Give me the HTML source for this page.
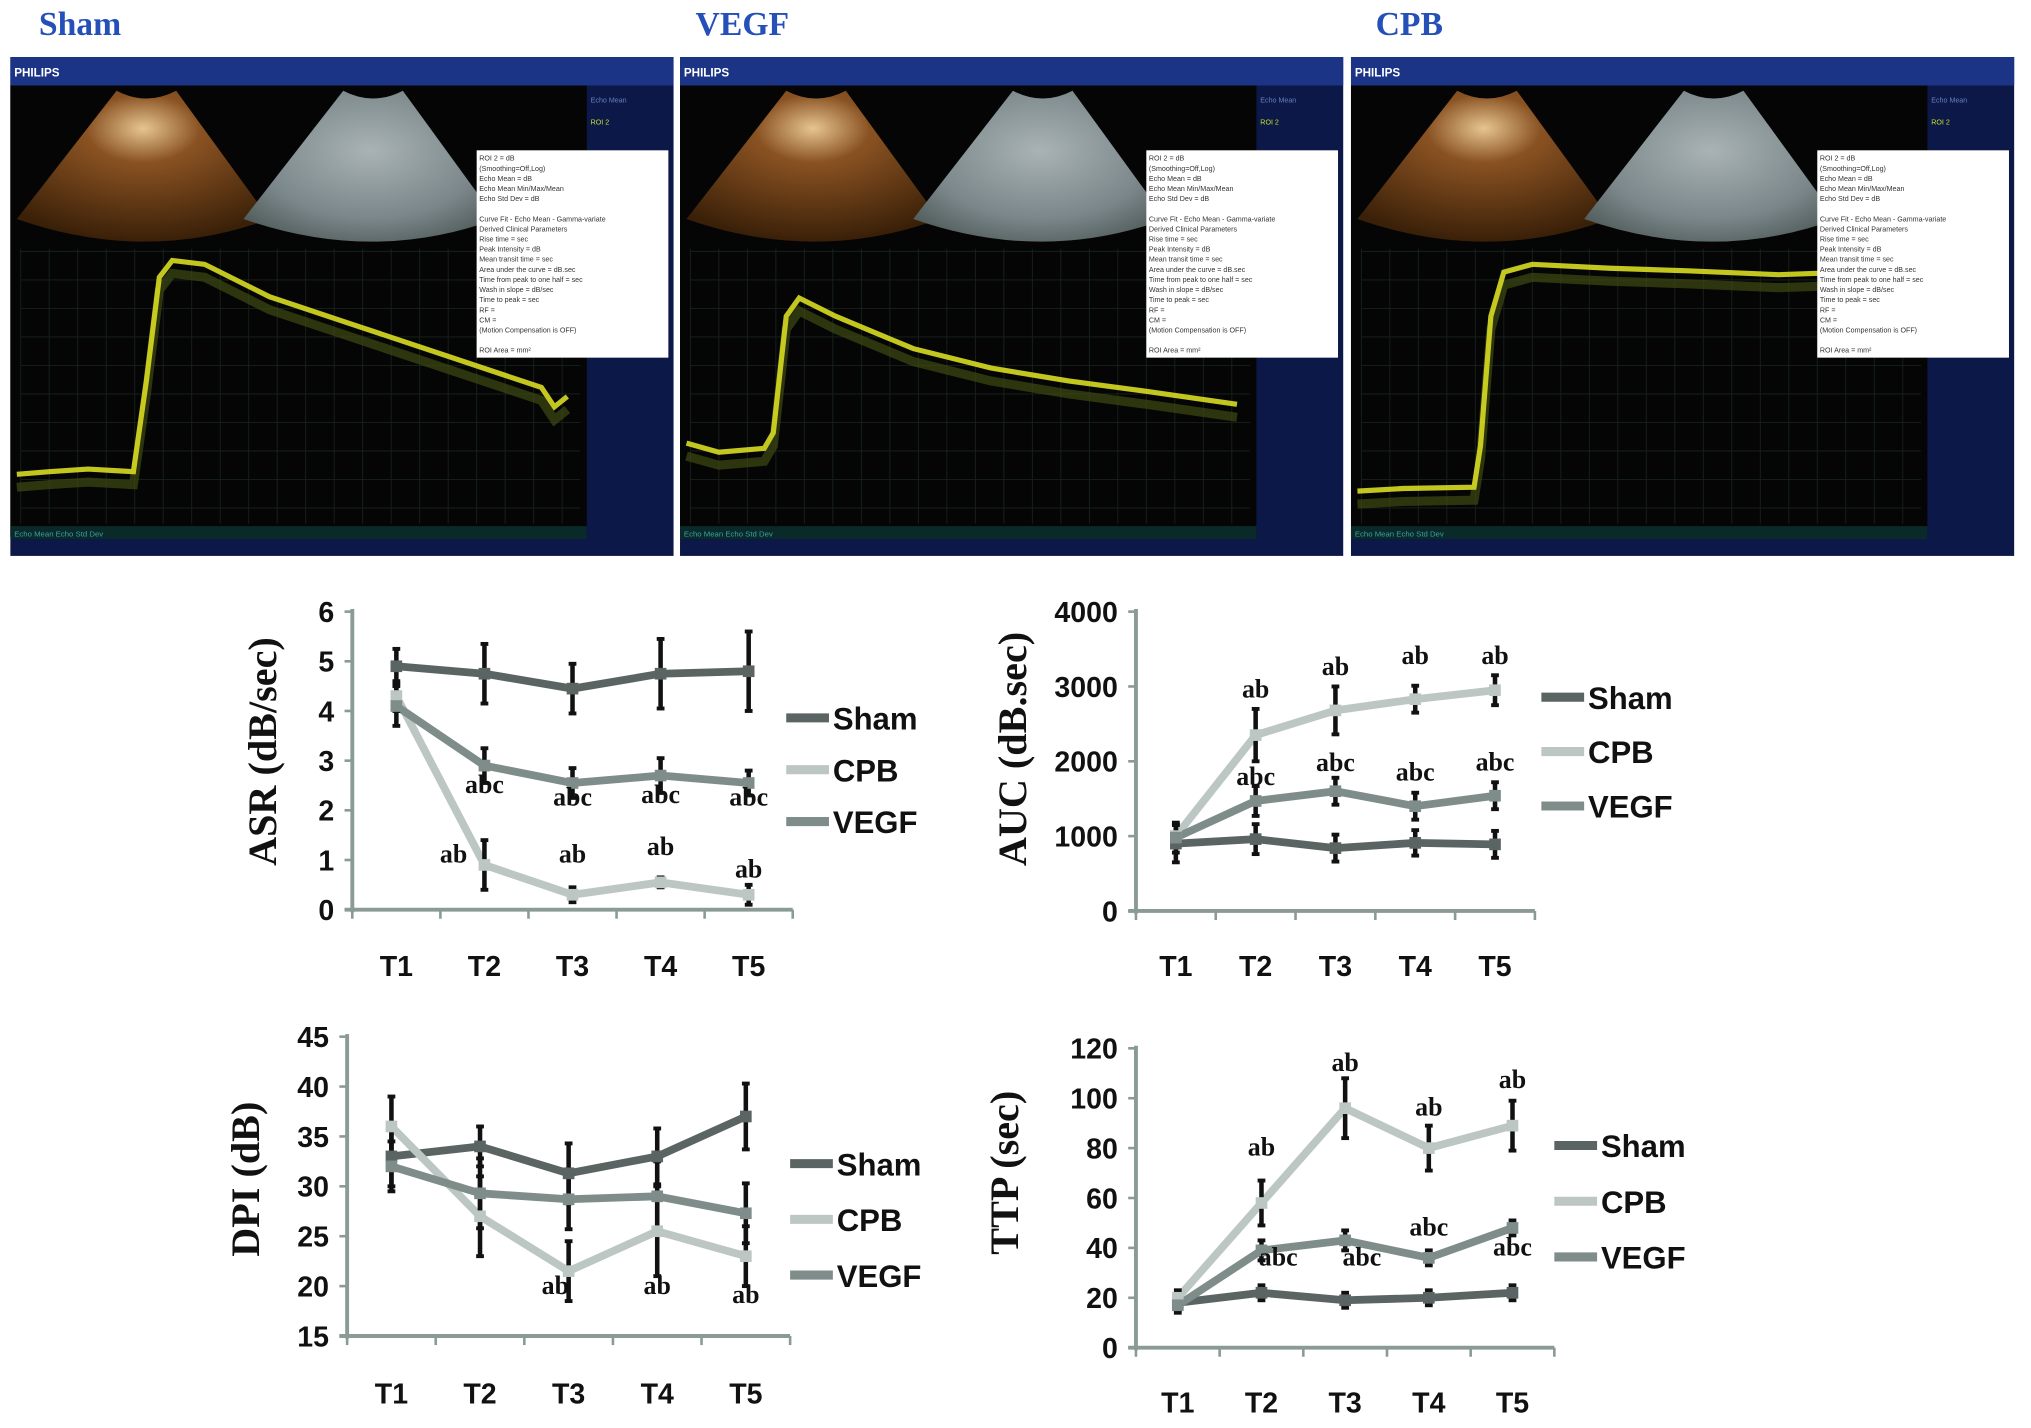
<!DOCTYPE html>
<html><head><meta charset="utf-8"><style>
html,body{margin:0;padding:0;background:#fff;}
svg{display:block;}
.tick{font-family:"Liberation Sans",sans-serif;font-weight:bold;font-size:22px;fill:#111;}
.ytitle{font-family:"Liberation Serif",serif;font-weight:bold;font-size:31px;fill:#111;}
.leg{font-family:"Liberation Sans",sans-serif;font-weight:bold;font-size:24px;fill:#111;}
.ann{font-family:"Liberation Serif",serif;font-weight:bold;font-size:20px;fill:#111;}
.ptitle{font-family:"Liberation Serif",serif;font-weight:bold;font-size:26px;fill:#2450b8;}
.info{font-family:"Liberation Sans",sans-serif;font-size:5.5px;fill:#333;}
</style></head><body>
<svg id="fig" width="2031" height="1428" viewBox="0 0 1568 1102" preserveAspectRatio="none" xmlns="http://www.w3.org/2000/svg">
<defs>
<radialGradient id="orangeG" cx="0.5" cy="0.25" r="0.75"><stop offset="0" stop-color="#e6c590"/><stop offset="0.3" stop-color="#8a5222"/><stop offset="1" stop-color="#3a2008"/></radialGradient>
<radialGradient id="grayG" cx="0.5" cy="0.4" r="0.75"><stop offset="0" stop-color="#a9b3b6"/><stop offset="0.6" stop-color="#7a8689"/><stop offset="1" stop-color="#444e4d"/></radialGradient>
</defs>
<g id="panels"></g>
<g id="charts"></g>
</svg>
<script>
const NS='http://www.w3.org/2000/svg';
function mk(tag,attrs,parent,text){const e=document.createElementNS(NS,tag);for(const k in attrs)e.setAttribute(k,attrs[k]);if(text!==undefined)e.textContent=text;parent.appendChild(e);return e;}

/* ---------- ultrasound panels ---------- */
const panelNames=['Sham','VEGF','CPB'];
const panelX=[8,525,1043];
const panelTitleX=[30,537,1062];
const shamCurve=[[5,322],[30,320],[60,318],[95,320],[105,250],[115,170],[125,157],[150,160],[200,185],[260,205],[320,225],[380,245],[410,255],[420,270],[430,262]];
const vegfCurve=[[5,298],[30,305],[65,302],[72,290],[82,200],[92,186],[120,200],[180,225],[240,240],[300,250],[360,258],[430,268]];
const cpbCurve=[[5,335],[40,333],[95,332],[100,300],[108,200],[118,166],[140,160],[200,163],[260,165],[330,168],[445,164]];
const curves=[shamCurve,vegfCurve,cpbCurve];
const pg=document.getElementById('panels');
panelNames.forEach((nm,i)=>{
  const t=mk('text',{x:panelTitleX[i],y:27,class:'ptitle'},pg,nm);
  
  
  const g=mk('g',{transform:`translate(${panelX[i]},44)`},pg);
  
  
  mk('rect',{x:0,y:0,width:512,height:385,fill:'#0c1848'},g);
  mk('rect',{x:0,y:0,width:512,height:22,fill:'#1b3486'},g);
  mk('text',{x:3,y:15,fill:'#fff','font-family':'Liberation Sans,sans-serif','font-weight':'bold','font-size':'9'},g,'PHILIPS');
  mk('rect',{x:0,y:22,width:445,height:348,fill:'#050505'},g);
  mk('path',{d:'M82,26 Q105,38 128,26 L200,125 Q105,160 5,125 Z',fill:'url(#orangeG)'},g);
  mk('path',{d:'M82,26 Q105,38 128,26 L200,125 Q105,160 5,125 Z',fill:'url(#grayG)',transform:'translate(175,0)'},g);
  for(let k=0;k<20;k++)mk('line',{x1:8+k*22,y1:148,x2:8+k*22,y2:360,stroke:'#17221c','stroke-width':0.7},g);
  for(let k=0;k<10;k++)mk('line',{x1:8,y1:150+k*22,x2:440,y2:150+k*22,stroke:'#17221c','stroke-width':0.7},g);
  const c=curves[i];
  mk('polyline',{points:c.map(p=>p[0]+','+(p[1]+10)).join(' '),fill:'none',stroke:'#3e4a14','stroke-width':7,opacity:0.7},g);
  mk('polyline',{points:c.map(p=>p.join(',')).join(' '),fill:'none',stroke:'#d8dc22','stroke-width':4,opacity:0.9},g);
  mk('rect',{x:360,y:72,width:148,height:160,fill:'#fff'},g);
  const lines=['ROI 2 = dB','(Smoothing=Off,Log)','Echo Mean = dB','Echo Mean Min/Max/Mean','Echo Std Dev = dB','','Curve Fit - Echo Mean - Gamma-variate','Derived Clinical Parameters','Rise time = sec','Peak Intensity = dB','Mean transit time = sec','Area under the curve = dB.sec','Time from peak to one half = sec','Wash in slope = dB/sec','Time to peak = sec','RF =','CM =','(Motion Compensation is OFF)','','ROI Area = mm²'];
  lines.forEach((l,j)=>{if(l)mk('text',{x:362,y:80+j*7.8,class:'info'},g,l);});
  mk('text',{x:448,y:35,fill:'#6a7fc0','font-size':'5.5','font-family':'Liberation Sans,sans-serif'},g,'Echo Mean');
  mk('text',{x:448,y:52,fill:'#c8e02a','font-size':'5.5','font-family':'Liberation Sans,sans-serif'},g,'ROI 2');
  mk('rect',{x:0,y:362,width:445,height:10,fill:'#0a2a2a'},g);
  mk('text',{x:3,y:370,fill:'#3aa0a0','font-size':'6','font-family':'Liberation Sans,sans-serif'},g,'Echo Mean  Echo Std Dev');
});

/* ---------- charts ---------- */
const categories=['T1','T2','T3','T4','T5'];
const seriesNames=['Sham','CPB','VEGF'];
const seriesColors=['#5a6563','#bcc7c3','#7f8d8a'];

const asrTicks=[0,1,2,3,4,5,6];
const asrSham=[4.9,4.75,4.45,4.75,4.8];
const asrCPB=[4.3,0.9,0.3,0.55,0.3];
const asrVEGF=[4.1,2.9,2.55,2.7,2.55];
const asrShamErr=[0.35,0.6,0.5,0.7,0.8];
const asrCPBErr=[0.3,0.5,0.15,0.1,0.2];
const asrVEGFErr=[0.4,0.35,0.3,0.35,0.25];
const asrAnnText=['ab','ab','ab','ab','abc','abc','abc','abc'];
const asrAnnCat=[0.65,2,3,4,1,2,3,4];
const asrAnnVal=[0.95,0.95,1.1,0.65,2.35,2.1,2.15,2.1];

const aucTicks=[0,1000,2000,3000,4000];
const aucSham=[900,960,840,910,890];
const aucCPB=[1000,2350,2680,2830,2950];
const aucVEGF=[980,1470,1600,1400,1540];
const aucShamErr=[250,200,180,170,180];
const aucCPBErr=[150,350,320,180,200];
const aucVEGFErr=[200,200,180,180,180];
const aucAnnText=['ab','ab','ab','ab','abc','abc','abc','abc'];
const aucAnnCat=[1,2,3,4,1,2,3,4];
const aucAnnVal=[2850,3150,3300,3300,1680,1870,1740,1880];

const dpiTicks=[15,20,25,30,35,40,45];
const dpiSham=[33,34,31.3,33,37];
const dpiCPB=[36,27,21.5,25.5,23];
const dpiVEGF=[32,29.3,28.7,29,27.3];
const dpiShamErr=[3,2,3,2.8,3.3];
const dpiCPBErr=[3,4,3,4.5,3];
const dpiVEGFErr=[2.5,3.5,3,3.5,3];
const dpiAnnText=['ab','ab','ab'];
const dpiAnnCat=[1.85,3,4];
const dpiAnnVal=[19.2,19.2,18.3];

const ttpTicks=[0,20,40,60,80,100,120];
const ttpSham=[18,22,19,20,22];
const ttpCPB=[20,58,96,80,89];
const ttpVEGF=[17,39,43,36,48];
const ttpShamErr=[3,3,3,3,3];
const ttpCPBErr=[3,9,12,9,10];
const ttpVEGFErr=[3,4,4,3,3];
const ttpAnnText=['ab','ab','ab','ab','abc','abc','abc','abc'];
const ttpAnnCat=[1,2,3,4,1.2,2.2,3,4];
const ttpAnnVal=[77,111,93,104,33,33,45,37];

const cg=document.getElementById('charts');
function drawChart(o){
  const g=mk('g',{},cg);
  
  
  const min=o.ticks[0],max=o.ticks[o.ticks.length-1];
  const yS=v=>o.yb-(v-min)/(max-min)*(o.yb-o.yt);
  const band=(o.xe-o.x0)/categories.length;
  const xS=i=>o.x0+(i+0.5)*band;
  const ax='#8a9a95';
  const yAxis=mk('line',{x1:o.x0,y1:o.yt-2,x2:o.x0,y2:o.yb+2,stroke:ax,'stroke-width':3},g);
  
  
  const xAxis=mk('line',{x1:o.x0-6,y1:o.yb,x2:o.xe,y2:o.yb,stroke:ax,'stroke-width':3},g);
  
  
  o.ticks.forEach(t=>{
    mk('line',{x1:o.x0-6,y1:yS(t),x2:o.x0,y2:yS(t),stroke:ax,'stroke-width':2},g);
    const tl=mk('text',{x:o.x0-14,y:yS(t)+8,class:'tick','text-anchor':'end'},g,String(t));
    
    
  });
  for(let i=0;i<=categories.length;i++)mk('line',{x1:o.x0+i*band,y1:o.yb,x2:o.x0+i*band,y2:o.yb+7,stroke:ax,'stroke-width':2},g);
  categories.forEach((c,i)=>{
    const tl=mk('text',{x:xS(i),y:o.xl,class:'tick','text-anchor':'middle'},g,c);
    
    
  });
  const yt=mk('text',{x:0,y:0,class:'ytitle','text-anchor':'middle',transform:`translate(${o.tx},${o.ty}) rotate(-90)`},g,o.title);
  
  
  o.series.forEach((s,si)=>{
    const pl=mk('polyline',{points:s.map((v,i)=>xS(i)+','+yS(v)).join(' '),fill:'none',stroke:seriesColors[si],'stroke-width':6,'stroke-linejoin':'round'},g);
    
    
  });
  o.series.forEach((s,si)=>{
    s.forEach((v,i)=>{
      const e=o.errs[si][i];
      const eb=mk('line',{x1:xS(i),y1:yS(v-e),x2:xS(i),y2:yS(v+e),stroke:'#111','stroke-width':3.5},g);
      
      
      mk('line',{x1:xS(i)-3,y1:yS(v-e),x2:xS(i)+3,y2:yS(v-e),stroke:'#111','stroke-width':3},g);
      mk('line',{x1:xS(i)-3,y1:yS(v+e),x2:xS(i)+3,y2:yS(v+e),stroke:'#111','stroke-width':3},g);
    });
  });
  o.series.forEach((s,si)=>{
    s.forEach((v,i)=>{
      const m=mk('rect',{x:xS(i)-4.5,y:yS(v)-4.5,width:9,height:9,fill:seriesColors[si]},g);
      
      
    });
  });
  o.annText.forEach((t,k)=>{
    const a=mk('text',{x:xS(o.annCat[k]),y:yS(o.annVal[k]),class:'ann','text-anchor':'middle'},g,t);
    
    
  });
  seriesNames.forEach((n,si)=>{
    const ly=o.ly+si*o.lgap;
    const ll=mk('line',{x1:o.lx,y1:ly,x2:o.lx+33,y2:ly,stroke:seriesColors[si],'stroke-width':7},g);
    
    
    const lt=mk('text',{x:o.lx+36,y:ly+9,class:'leg'},g,n);
    
    
  });
}
drawChart({name:'asr-chart',x0:272,xe:612,yt:472,yb:702,xl:753,ticks:asrTicks,series:[asrSham,asrCPB,asrVEGF],errs:[asrShamErr,asrCPBErr,asrVEGFErr],annText:asrAnnText,annCat:asrAnnCat,annVal:asrAnnVal,title:'ASR (dB/sec)',tx:213,ty:580,lx:607,ly:554,lgap:40});
drawChart({name:'auc-chart',x0:877,xe:1185,yt:472,yb:703,xl:753,ticks:aucTicks,series:[aucSham,aucCPB,aucVEGF],errs:[aucShamErr,aucCPBErr,aucVEGFErr],annText:aucAnnText,annCat:aucAnnCat,annVal:aucAnnVal,title:'AUC (dB.sec)',tx:792,ty:578,lx:1190,ly:538,lgap:42});
drawChart({name:'dpi-chart',x0:268,xe:610,yt:800,yb:1031,xl:1083,ticks:dpiTicks,series:[dpiSham,dpiCPB,dpiVEGF],errs:[dpiShamErr,dpiCPBErr,dpiVEGFErr],annText:dpiAnnText,annCat:dpiAnnCat,annVal:dpiAnnVal,title:'DPI (dB)',tx:200,ty:910,lx:610,ly:898,lgap:43});
drawChart({name:'ttp-chart',x0:877,xe:1200,yt:809,yb:1040,xl:1090,ticks:ttpTicks,series:[ttpSham,ttpCPB,ttpVEGF],errs:[ttpShamErr,ttpCPBErr,ttpVEGFErr],annText:ttpAnnText,annCat:ttpAnnCat,annVal:ttpAnnVal,title:'TTP (sec)',tx:786,ty:905,lx:1200,ly:884,lgap:43});
</script>
</body></html>
